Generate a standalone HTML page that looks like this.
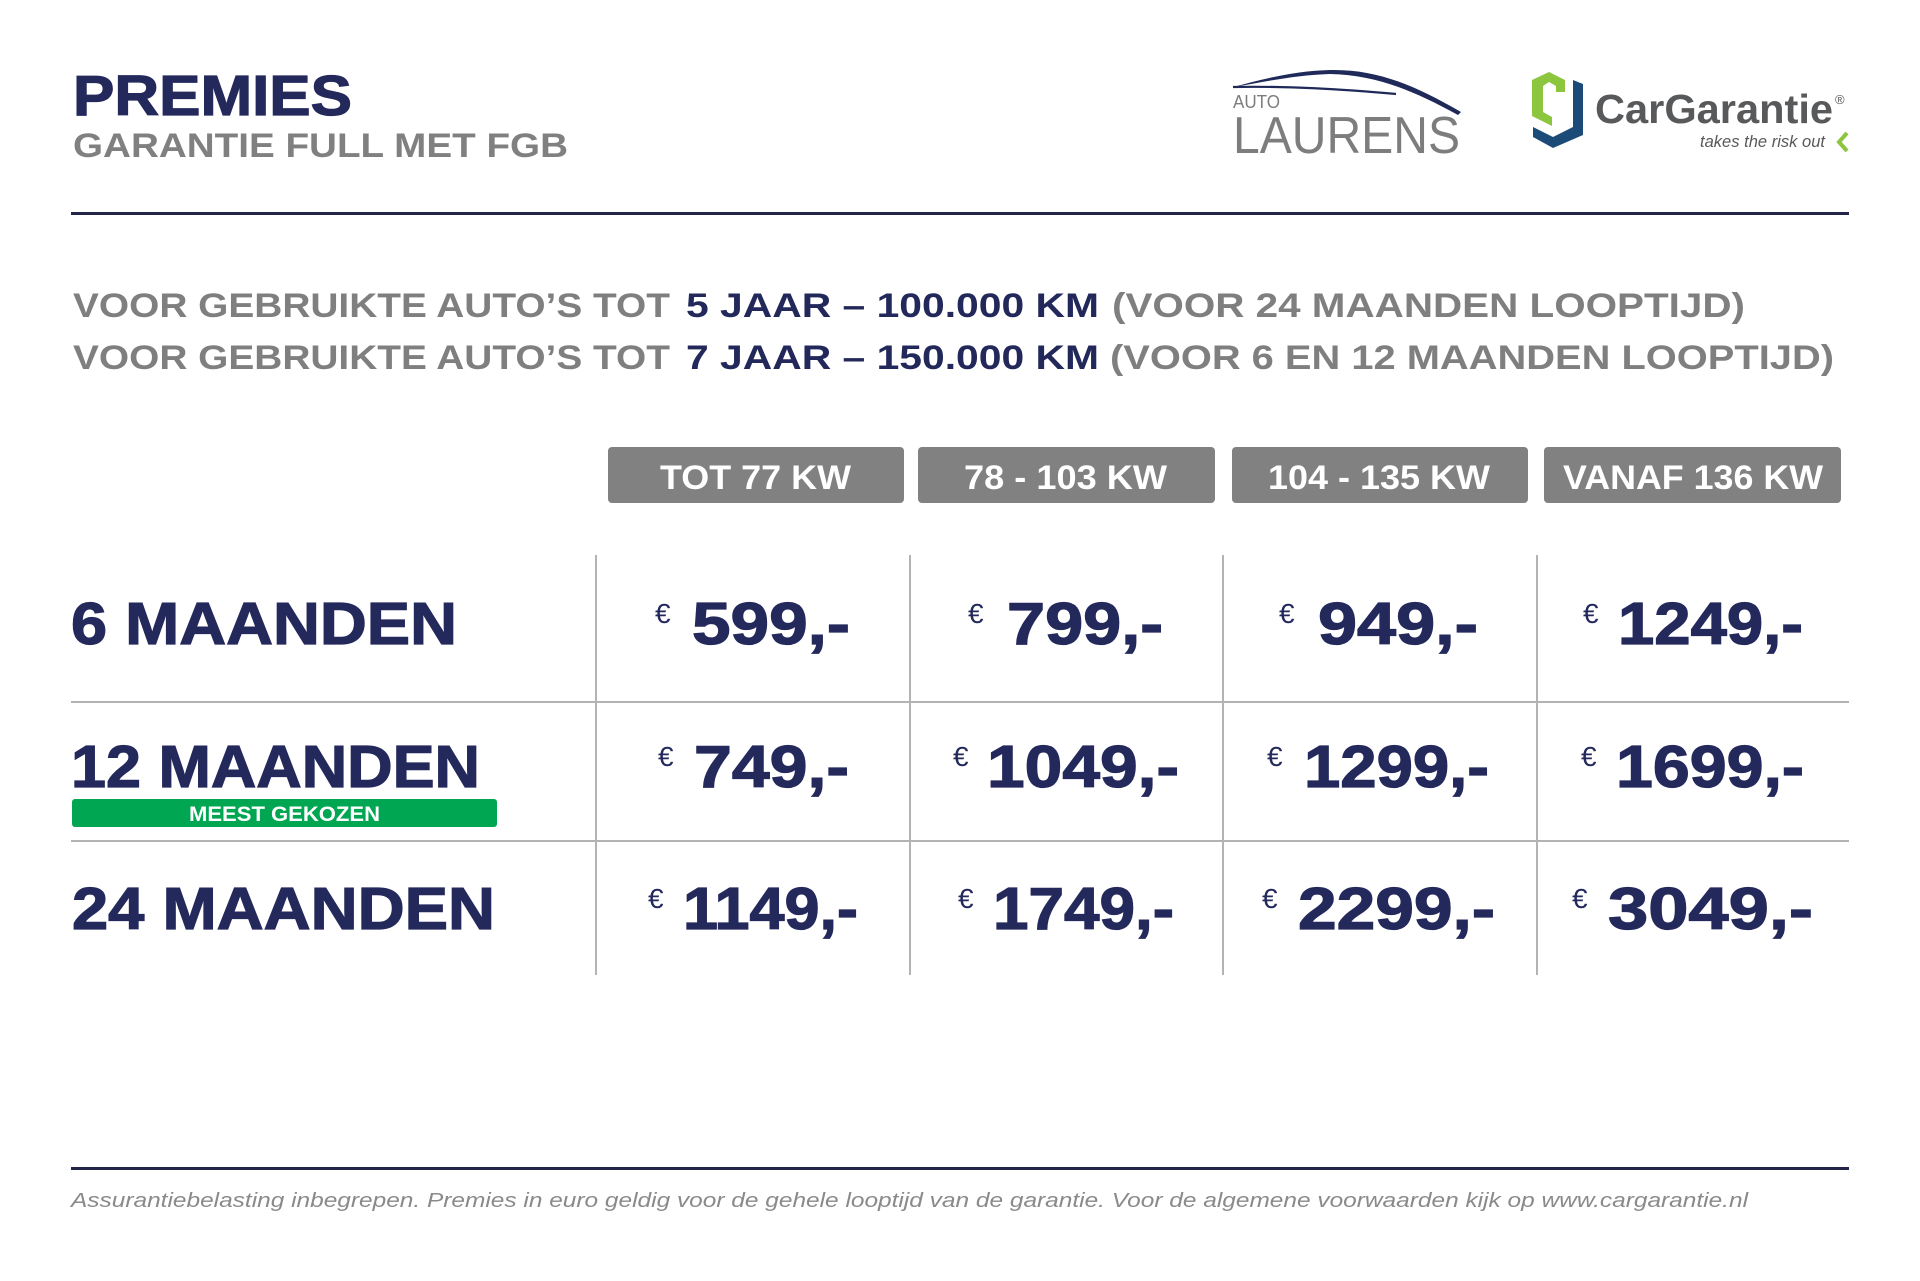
<!DOCTYPE html>
<html>
<head>
<meta charset="utf-8">
<style>
  html,body{margin:0;padding:0;background:#fff;}
  svg{display:block;}
  text{font-family:"Liberation Sans", Arial, sans-serif;}
</style>
</head>
<body>
<svg width="1920" height="1281" viewBox="0 0 1920 1281" xmlns="http://www.w3.org/2000/svg">
  <rect x="0" y="0" width="1920" height="1281" fill="#ffffff"/>

  <!-- Title -->
  <text x="73" y="115" font-size="57" font-weight="bold" fill="#24295c" stroke="#24295c" stroke-width="1.2" textLength="279" lengthAdjust="spacingAndGlyphs">PREMIES</text>
  <text x="73" y="157" font-size="34" font-weight="bold" fill="#808080" textLength="495" lengthAdjust="spacingAndGlyphs">GARANTIE FULL MET FGB</text>

  <!-- Auto Laurens logo -->
  <path d="M1233,87 C1260,80 1292,71 1330,70 C1377,69 1414,85 1461,112 L1458,115 C1412,90 1376,75 1330,74 C1295,75 1264,82 1233,87 Z" fill="#1f2a5a"/>
  <path d="M1233,87 C1290,86 1340,89 1396,94" fill="none" stroke="#1f2a5a" stroke-width="2.2"/>
  <text x="1233" y="108" font-size="18" fill="#7d7d7d" textLength="47" lengthAdjust="spacingAndGlyphs">AUTO</text>
  <text x="1233" y="153" font-size="52" fill="#7d7d7d" textLength="227" lengthAdjust="spacingAndGlyphs">LAURENS</text>

  <!-- CarGarantie logo -->
  <polygon points="1549,72 1565,80 1565,92 1556,92 1556,86 1549,82 1543,86 1543,112 1552,117 1552,126 1532,116 1532,80" fill="#8cc63f"/>
  <polygon points="1573,80 1583,84 1583,135 1553,148 1533,137 1533,127 1553,137 1573,127" fill="#1d4b77"/>
  <text x="1595" y="123" font-size="41" font-weight="bold" fill="#58595b" textLength="238" lengthAdjust="spacingAndGlyphs">CarGarantie</text>
  <text x="1835" y="104" font-size="13" fill="#58595b">®</text>
  <text x="1700" y="147" font-size="17" font-style="italic" fill="#58595b" textLength="125" lengthAdjust="spacingAndGlyphs">takes the risk out</text>
  <polyline points="1847,133 1839,142 1847,151" fill="none" stroke="#8cc63f" stroke-width="4"/>

  <!-- Top rule -->
  <rect x="71" y="212" width="1778" height="3" fill="#23244a"/>

  <!-- Info lines -->
  <text x="73" y="317" font-size="34" font-weight="bold" fill="#7f7f7f" textLength="597" lengthAdjust="spacingAndGlyphs">VOOR GEBRUIKTE AUTO’S TOT</text>
  <text x="686" y="317" font-size="34" font-weight="bold" fill="#23285a" textLength="413" lengthAdjust="spacingAndGlyphs">5 JAAR – 100.000 KM</text>
  <text x="1112" y="317" font-size="34" font-weight="bold" fill="#7f7f7f" textLength="633" lengthAdjust="spacingAndGlyphs">(VOOR 24 MAANDEN LOOPTIJD)</text>

  <text x="73" y="369" font-size="34" font-weight="bold" fill="#7f7f7f" textLength="597" lengthAdjust="spacingAndGlyphs">VOOR GEBRUIKTE AUTO’S TOT</text>
  <text x="686" y="369" font-size="34" font-weight="bold" fill="#23285a" textLength="413" lengthAdjust="spacingAndGlyphs">7 JAAR – 150.000 KM</text>
  <text x="1110" y="369" font-size="34" font-weight="bold" fill="#7f7f7f" textLength="724" lengthAdjust="spacingAndGlyphs">(VOOR 6 EN 12 MAANDEN LOOPTIJD)</text>

  <!-- Header boxes -->
  <rect x="608" y="447" width="296" height="56" rx="4" fill="#818181"/>
  <rect x="918" y="447" width="297" height="56" rx="4" fill="#818181"/>
  <rect x="1232" y="447" width="296" height="56" rx="4" fill="#818181"/>
  <rect x="1544" y="447" width="297" height="56" rx="4" fill="#818181"/>
  <text x="660" y="489" font-size="34" font-weight="bold" fill="#ffffff" textLength="191" lengthAdjust="spacingAndGlyphs">TOT 77 KW</text>
  <text x="964" y="489" font-size="34" font-weight="bold" fill="#ffffff" textLength="203" lengthAdjust="spacingAndGlyphs">78 - 103 KW</text>
  <text x="1268" y="489" font-size="34" font-weight="bold" fill="#ffffff" textLength="222" lengthAdjust="spacingAndGlyphs">104 - 135 KW</text>
  <text x="1563" y="489" font-size="34" font-weight="bold" fill="#ffffff" textLength="260" lengthAdjust="spacingAndGlyphs">VANAF 136 KW</text>

  <!-- Grid lines -->
  <g stroke="#b3b3b3" stroke-width="2">
    <line x1="596" y1="555" x2="596" y2="975"/>
    <line x1="910" y1="555" x2="910" y2="975"/>
    <line x1="1223" y1="555" x2="1223" y2="975"/>
    <line x1="1537" y1="555" x2="1537" y2="975"/>
    <line x1="71" y1="702" x2="1849" y2="702"/>
    <line x1="71" y1="841" x2="1849" y2="841"/>
  </g>

  <!-- Row labels -->
  <g font-size="59" font-weight="bold" fill="#24295c" stroke="#24295c" stroke-width="1.2">
    <text x="71" y="644" textLength="386" lengthAdjust="spacingAndGlyphs">6 MAANDEN</text>
    <text x="71" y="787" textLength="409" lengthAdjust="spacingAndGlyphs">12 MAANDEN</text>
    <text x="72" y="929" textLength="423" lengthAdjust="spacingAndGlyphs">24 MAANDEN</text>
  </g>

  <!-- Badge -->
  <rect x="72" y="799" width="425" height="28" rx="3" fill="#00a651"/>
  <text x="189" y="821" font-size="21" font-weight="bold" fill="#ffffff" textLength="191" lengthAdjust="spacingAndGlyphs">MEEST GEKOZEN</text>

  <!-- Euro signs -->
  <g font-size="28" fill="#24295c">
    <text x="655" y="623">€</text>
    <text x="968" y="623">€</text>
    <text x="1279" y="623">€</text>
    <text x="1583" y="623">€</text>
    <text x="658" y="766">€</text>
    <text x="953" y="766">€</text>
    <text x="1267" y="766">€</text>
    <text x="1581" y="766">€</text>
    <text x="648" y="908">€</text>
    <text x="958" y="908">€</text>
    <text x="1262" y="908">€</text>
    <text x="1572" y="908">€</text>
  </g>

  <!-- Prices -->
  <g font-size="59" font-weight="bold" fill="#24295c" stroke="#24295c" stroke-width="1.2">
    <text x="692" y="644" textLength="158" lengthAdjust="spacingAndGlyphs">599,-</text>
    <text x="1007" y="644" textLength="156" lengthAdjust="spacingAndGlyphs">799,-</text>
    <text x="1318" y="644" textLength="160" lengthAdjust="spacingAndGlyphs">949,-</text>
    <text x="1618" y="644" textLength="185" lengthAdjust="spacingAndGlyphs">1249,-</text>

    <text x="694" y="787" textLength="155" lengthAdjust="spacingAndGlyphs">749,-</text>
    <text x="987" y="787" textLength="192" lengthAdjust="spacingAndGlyphs">1049,-</text>
    <text x="1304" y="787" textLength="185" lengthAdjust="spacingAndGlyphs">1299,-</text>
    <text x="1616" y="787" textLength="188" lengthAdjust="spacingAndGlyphs">1699,-</text>

    <text x="683" y="929" textLength="175" lengthAdjust="spacingAndGlyphs">1149,-</text>
    <text x="993" y="929" textLength="181" lengthAdjust="spacingAndGlyphs">1749,-</text>
    <text x="1298" y="929" textLength="197" lengthAdjust="spacingAndGlyphs">2299,-</text>
    <text x="1608" y="929" textLength="205" lengthAdjust="spacingAndGlyphs">3049,-</text>
  </g>

  <!-- Footer -->
  <rect x="71" y="1167" width="1778" height="3" fill="#23244a"/>
  <text x="71" y="1207" font-size="20" font-style="italic" fill="#8a8a8a" textLength="1677" lengthAdjust="spacingAndGlyphs">Assurantiebelasting inbegrepen. Premies in euro geldig voor de gehele looptijd van de garantie. Voor de algemene voorwaarden kijk op www.cargarantie.nl</text>
</svg>
</body>
</html>
